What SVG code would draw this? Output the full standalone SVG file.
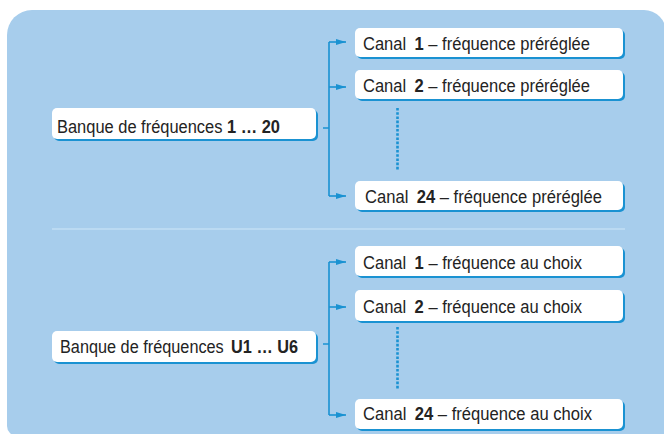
<svg xmlns="http://www.w3.org/2000/svg" width="664" height="434" viewBox="0 0 664 434">
<defs>
<style>
.sh{fill:#1a92d2}
.bx{fill:#ffffff}
.t{font-family:"Liberation Sans",Arial,sans-serif;font-size:17.5px;fill:#232323}
.b{font-weight:bold}
.ln{stroke:#1a92d2;stroke-width:1.6;fill:none}
.dot{stroke:#1a92d2;stroke-width:2.6;stroke-dasharray:2.6 1.6;fill:none}
</style>
<marker id="ar" viewBox="0 0 10 6" refX="10" refY="3" markerWidth="10" markerHeight="6" markerUnits="userSpaceOnUse" orient="auto">
<path d="M0,0 L10,3 L0,6 Z" fill="#1a92d2"/>
</marker>
</defs>
<path d="M7,35 A25,25 0 0 1 32,10 L644,10 A22,22 0 0 1 666,32 L666,436 L17,436 A10,10 0 0 1 7,426 Z" fill="#a7cdec"/>
<line x1="52" y1="229" x2="625" y2="229" stroke="#c2def5" stroke-width="1.5"/>
<g id="connectors">
<path class="ln" d="M323,128 H329 M329,42 V196"/>
<path class="ln" d="M329,42 H346" marker-end="url(#ar)"/>
<path class="ln" d="M329,87 H346" marker-end="url(#ar)"/>
<path class="ln" d="M329,196 H346" marker-end="url(#ar)"/>
<path class="dot" d="M397.5,108 V171"/>
<path class="ln" d="M323,344 H329 M329,262 V415"/>
<path class="ln" d="M329,262 H346" marker-end="url(#ar)"/>
<path class="ln" d="M329,307 H346" marker-end="url(#ar)"/>
<path class="ln" d="M329,415 H346" marker-end="url(#ar)"/>
<path class="dot" d="M397.5,327 V390"/>
</g>
<g id="bank1">
<rect class="sh" x="54" y="110" width="264" height="31" rx="5"/>
<rect class="bx" x="52" y="108" width="264" height="31" rx="5"/>
<text class="t" x="57" y="133" textLength="223" lengthAdjust="spacingAndGlyphs">Banque de fréquences <tspan class="b">1 … 20</tspan></text>
</g>
<g id="top-c1">
<rect class="sh" x="357" y="30" width="268" height="29" rx="5"/>
<rect class="bx" x="355" y="28" width="268" height="29" rx="5"/>
<text class="t" x="363" y="50" textLength="227" lengthAdjust="spacingAndGlyphs">Canal <tspan class="b" dx="4">1</tspan> – fréquence préréglée</text>
</g>
<g id="top-c2">
<rect class="sh" x="357" y="72" width="268" height="29" rx="5"/>
<rect class="bx" x="355" y="70" width="268" height="29" rx="5"/>
<text class="t" x="363" y="92" textLength="227" lengthAdjust="spacingAndGlyphs">Canal <tspan class="b" dx="4">2</tspan> – fréquence préréglée</text>
</g>
<g id="top-c24">
<rect class="sh" x="357" y="183" width="268" height="29" rx="5"/>
<rect class="bx" x="355" y="181" width="268" height="29" rx="5"/>
<text class="t" x="365" y="203" textLength="237" lengthAdjust="spacingAndGlyphs">Canal <tspan class="b" dx="4">24</tspan> – fréquence préréglée</text>
</g>
<g id="bank2">
<rect class="sh" x="54" y="333" width="264" height="31" rx="5"/>
<rect class="bx" x="52" y="331" width="264" height="31" rx="5"/>
<text class="t" x="60" y="353" textLength="238" lengthAdjust="spacingAndGlyphs">Banque de fréquences <tspan class="b" dx="3">U1 … U6</tspan></text>
</g>
<g id="bot-c1">
<rect class="sh" x="357" y="248" width="268" height="30" rx="5"/>
<rect class="bx" x="355" y="246" width="268" height="30" rx="5"/>
<text class="t" x="363" y="269" textLength="219" lengthAdjust="spacingAndGlyphs">Canal <tspan class="b" dx="4">1</tspan> – fréquence au choix</text>
</g>
<g id="bot-c2">
<rect class="sh" x="357" y="292" width="268" height="31" rx="5"/>
<rect class="bx" x="355" y="290" width="268" height="31" rx="5"/>
<text class="t" x="363" y="313" textLength="219" lengthAdjust="spacingAndGlyphs">Canal <tspan class="b" dx="4">2</tspan> – fréquence au choix</text>
</g>
<g id="bot-c24">
<rect class="sh" x="357" y="401" width="268" height="30" rx="5"/>
<rect class="bx" x="355" y="399" width="268" height="30" rx="5"/>
<text class="t" x="363" y="420" textLength="229" lengthAdjust="spacingAndGlyphs">Canal <tspan class="b" dx="4">24</tspan> – fréquence au choix</text>
</g>
</svg>
